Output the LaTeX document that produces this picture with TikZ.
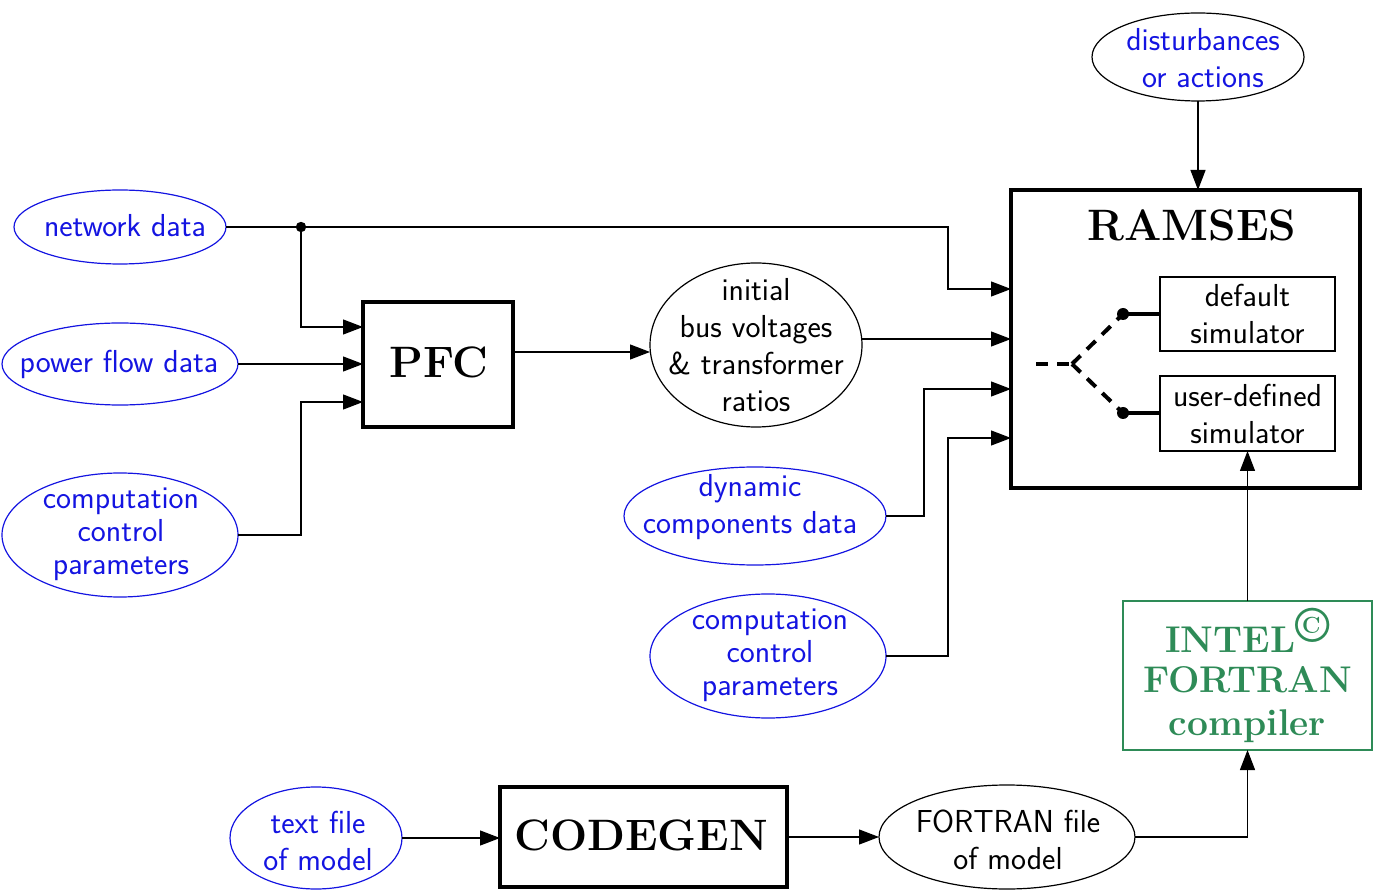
\documentclass[tikz,border=0pt]{standalone}
\usepackage{fontspec}
\usetikzlibrary{shapes.geometric,arrows.meta,calc}
\definecolor{dblue}{RGB}{20,20,225}
\definecolor{sgreen}{RGB}{46,139,87}
\begin{document}
\begin{tikzpicture}[x=0.5pt,y=-0.5pt,
  every node/.style={font=\sffamily\fontsize{15.9}{18.5}\selectfont, align=center, inner sep=0pt, outer sep=0pt},
  ell/.style={ellipse, draw, line width=0.6pt},
  inp/.style={ell, draw=dblue},
  outl/.style={ell, draw=black},
  btxt/.style={text=dblue},
  ktxt/.style={text=black},
  tight/.style={font=\sffamily\fontsize{15.9}{16.5}\selectfont},
  bigbox/.style={draw, line width=2pt, rectangle},
  bigtxt/.style={font=\bfseries\fontsize{22}{26}\selectfont},
  simbox/.style={draw, line width=0.6pt, rectangle, minimum width=87.5pt},
  conn/.style={line width=0.6pt},
  arr/.style={conn, -{Triangle[length=10pt,width=7.5pt]}},
  dashln/.style={line width=2pt, dash pattern=on 6pt off 4.5pt},
  solidln/.style={line width=2.2pt},
]
\useasboundingbox (0,0) rectangle (1375,892);

% ---------- RAMSES ----------
\node[bigbox, minimum width=174.5pt, minimum height=149pt] (ramses) at (1185.5,339) {};
\node[bigtxt] (ramsest) at (1192,225) {RAMSES};
\node[simbox, minimum height=37pt] (defsim) at (1247.5,314) {default\\simulator};
\node[simbox, minimum height=37.5pt] (usrsim) at (1247.5,413.5) {user-defined\\simulator};
\coordinate (ys) at (1036,364);
\coordinate (yb) at (1072,364);
\coordinate (b1) at (1123,314);
\coordinate (b2) at (1123,413);
\draw[dashln] (ys) -- (yb);
\draw[dashln] (yb) -- (b1);
\draw[dashln] (yb) -- (b2);
\draw[solidln] (b1) -- (b1 -| defsim.west);
\draw[solidln] (b2) -- (b2 -| usrsim.west);
\fill (b1) circle (3pt);
\fill (b2) circle (3pt);

\path (ramses.west) ++(0,-50) coordinate (r1);
\path (ramses.west) coordinate (r2);
\path (ramses.west) ++(0,50) coordinate (r3);
\path (ramses.west) ++(0,99) coordinate (r4);

% ---------- disturbances ----------
\node[outl, minimum width=106pt, minimum height=44pt] (dist) at (1198,57) {};
\node[btxt] (distt) at (1203,58) {disturbances\\or actions};
\draw[arr] (dist.south) -- (dist.south |- ramses.north);

% ---------- left inputs ----------
\node[inp, minimum width=106pt, minimum height=37pt] (nd) at (120,227) {};
\node[btxt] (ndt) at (125,226) {network data};
\node[inp, minimum width=118pt, minimum height=41pt] (pfd) at (120,364) {};
\node[btxt] (pfdt) at (119,364) {power flow data};
\node[inp, minimum width=118pt, minimum height=62pt] (ccpa) at (120,535) {};
\node[btxt, tight] (ccpat) at (121,534) {computation\\control\\parameters};

% ---------- PFC ----------
\node[bigbox, minimum width=75pt, minimum height=62.5pt] (pfc) at (438,364.5) {};
\node[bigtxt] (pfct) at (439,362) {PFC};

\coordinate (j1) at (301,227);
\fill (j1) circle (2.6pt);
\draw[conn] (nd.east) -- (j1);
\draw[arr] (j1) |- ([yshift=18.75pt]pfc.west);
\draw[arr] (pfd.east) -- (pfd.east -| pfc.west);
\draw[arr] (ccpa.east) -- (ccpa.east -| j1) |- ([yshift=-18.75pt]pfc.west);
\draw[arr] (j1) -| ([xshift=-31.5pt]r1) -- (r1);

% ---------- initial ----------
\node[outl, minimum width=106pt, minimum height=82pt] (init) at (756,345) {};
\node[ktxt] (initt) at (756,345) {initial\\bus voltages\\\& transformer\\ratios};
\coordinate (y352) at (0,352);
\draw[arr] (pfc.east |- y352) -- (init.west |- y352);
\draw[arr] (init.east |- r2) -- (r2);

% ---------- dynamic ----------
\node[inp, minimum width=131pt, minimum height=49pt] (dyn) at (755,516) {};
\node[btxt] (dynt) at (750,507) {dynamic\\components data};
\draw[arr] (dyn.east) -| ([xshift=-43.5pt]r3) -- (r3);

\node[inp, minimum width=118pt, minimum height=62pt] (ccpb) at (768,656) {};
\node[btxt, tight] (ccpbt) at (770,655) {computation\\control\\parameters};
\draw[arr] (ccpb.east) -| ([xshift=-31.5pt]r4) -- (r4);

% ---------- INTEL ----------
\node[draw=sgreen, line width=0.6pt, minimum width=124.5pt, minimum height=74.5pt,
      text=sgreen, font=\bfseries\fontsize{18.6}{21.8}\selectfont] (intel) at (1247.5,675.5)
      {INTEL\raisebox{5pt}{\fontsize{25}{25}\selectfont\copyright}\\[-2pt]FORTRAN\\compiler};
\draw[arr] (intel.north) -- (usrsim.south);

% ---------- bottom row ----------
\node[inp, minimum width=86pt, minimum height=51pt] (tf) at (316,838) {};
\node[btxt] (tft) at (318,841) {text file\\of model};
\node[bigbox, minimum width=143.5pt, minimum height=50pt] (codegen) at (643.5,837) {};
\node[bigtxt] (codegent) at (641,835) {CODEGEN};
\node[outl, minimum width=128pt, minimum height=52pt] (ff) at (1007,837) {};
\node[ktxt] (fft) at (1008,840) {FORTRAN file\\of model};
\draw[arr] (tf.east) -- (tf.east -| codegen.west);
\draw[arr] (codegen.east) -- (ff.west);
\draw[arr] (ff.east) -| (intel.south);
\end{tikzpicture}
\end{document}
